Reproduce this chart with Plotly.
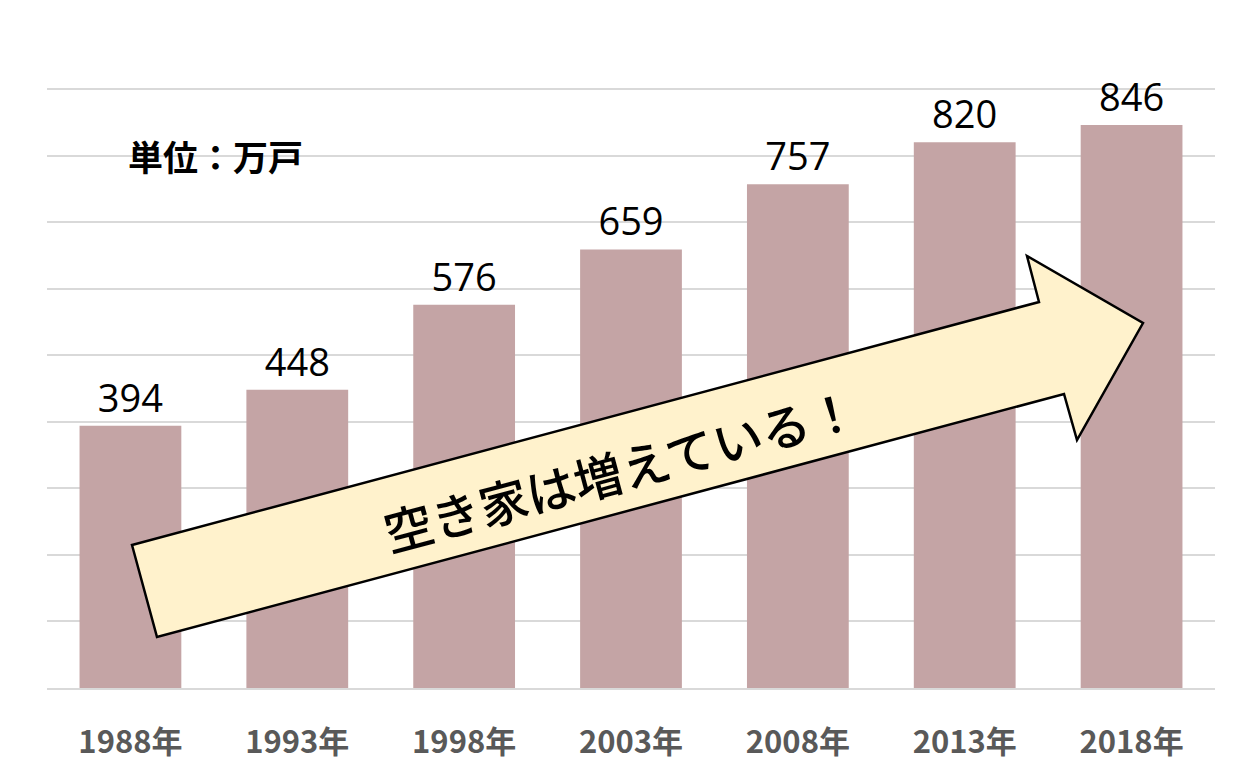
import plotly.graph_objects as go

years = ["1988年", "1993年", "1998年", "2003年", "2008年", "2013年", "2018年"]
vacant_homes = [394, 448, 576, 659, 757, 820, 846]
unit_label = "単位：万戸"
arrow_label = "空き家は増えている！"

W, H = 1255, 761
L, R, T, B = 47, 40, 86, 73
pw, ph = W - L - R, H - T - B
y_top = 900 * ph / 599.0  # keep 900 gridline at the same pixel, clear of the edge


def px(x):
    return (x - L) / pw


def py(y):
    return (H - B - y) / ph


fig = go.Figure()
fig.add_trace(go.Bar(
    x=years, y=vacant_homes,
    marker=dict(color="#C4A4A5", line=dict(width=0)),
    text=[str(v) for v in vacant_homes],
    textposition="outside",
    textfont=dict(family="Open Sans, Noto Sans, sans-serif", size=38, color="#000000"),
    cliponaxis=False,
    hoverinfo="skip",
))

arrow_pts = [(132, 545), (1039, 302), (1027, 256), (1143, 323), (1077, 440), (1064, 394), (157, 637)]
path = "M " + " L ".join(f"{px(x):.5f},{py(y):.5f}" for x, y in arrow_pts) + " Z"

fig.update_layout(
    template="none",
    width=W, height=H,
    margin=dict(l=L, r=R, t=T, b=B, pad=0),
    plot_bgcolor="white", paper_bgcolor="white",
    bargap=0.39,
    showlegend=False,
    xaxis=dict(
        type="category", automargin=False,
        showgrid=False,
        showline=True, linecolor="#D9D9D9", linewidth=2,
        ticks="", ticklabelstandoff=26,
        tickfont=dict(family="Noto Sans CJK JP", size=31, color="#595959", weight="bold"),
    ),
    yaxis=dict(
        automargin=False,
        range=[0, y_top], tickvals=[100, 200, 300, 400, 500, 600, 700, 800, 900],
        showgrid=True, gridcolor="#D9D9D9", gridwidth=1.5,
        showticklabels=False, zeroline=False, showline=False,
    ),
    shapes=[dict(
        type="path", xref="paper", yref="paper", path=path,
        fillcolor="#FFF2CC", line=dict(color="#000000", width=2.5), layer="above",
    )],
    annotations=[
        dict(text=unit_label, xref="paper", yref="paper", x=px(215), y=py(155),
             showarrow=False, xanchor="center", yanchor="middle",
             font=dict(family="Noto Sans CJK JP", size=35, color="#000000", weight="bold")),
        dict(text=arrow_label, xref="paper", yref="paper", x=px(620), y=py(468),
             showarrow=False, xanchor="center", yanchor="middle", textangle=-15,
             font=dict(family="Noto Sans CJK JP", size=49, color="#000000", weight=500)),
    ],
)

fig.write_html("out.html", config={"displayModeBar": False},
               post_script="document.body.style.margin='0px';")
